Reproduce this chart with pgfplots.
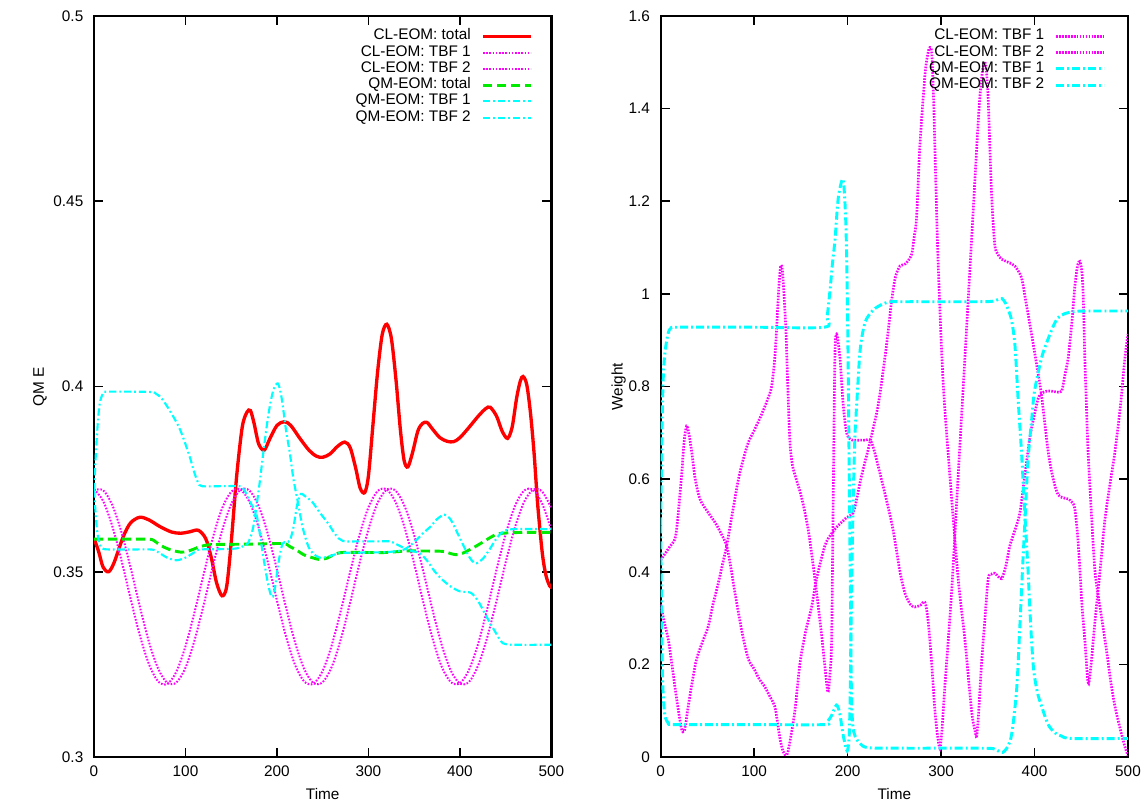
\documentclass[border=0pt]{standalone}
\usepackage{fontspec}
\setmainfont{Liberation Sans}
\usepackage{pgfplots}
\pgfplotsset{compat=1.18}

\definecolor{gpred}{RGB}{255,0,0}
\definecolor{gpmag}{RGB}{255,0,255}
\definecolor{gpgreen}{RGB}{0,235,0}
\definecolor{gpcyan}{RGB}{0,255,255}
\newcommand{\fs}{\fontsize{11.5pt}{12pt}\selectfont}

\pgfplotsset{
  gp/.style={
    scale only axis,
    xmin=0, xmax=500,
    xtick={0,100,200,300,400,500},
    xticklabels={0,100,200,300,400,500},
    tick align=inside, xtick pos=both, ytick pos=both,
    major tick length=7pt,
    tick style={black, line width=1.2pt},
    axis line style={line width=1.6pt},
    tick label style={font=\fs},
    label style={font=\fs},
    xticklabel style={yshift=-3pt},
    yticklabel style={xshift=-4.5pt},
    xlabel={Time},
    xlabel style={at={(axis description cs:0.5,-0.0505)}, anchor=center},
    legend plot pos=right,
    legend cell align=right,
    legend image code/.code={\draw[##1] (0pt,0pt) -- (36pt,0pt);},
    legend style={draw=none, fill=none, font=\fs, inner sep=0pt,
      row sep=0pt, column sep=8pt,
      nodes={inner sep=0pt, text height=8.8pt, text depth=3.4pt}},
    every axis plot/.append style={smooth, tension=0.5, no markers},
  },
  cltot/.style={gpred, line width=2.5pt},
  cldot/.style={gpmag, line width=1.5pt, dash pattern=on 1.2pt off 1.2pt},
  qmtot/.style={gpgreen, line width=2.2pt, dash pattern=on 7pt off 3.5pt},
  qmdd/.style={gpcyan, line width=1.6pt, dash pattern=on 5.5pt off 2.2pt on 1.3pt off 2.2pt},
  cldotR/.style={gpmag, line width=2pt, dash pattern=on 1.2pt off 1pt},
  qmddR/.style={gpcyan, line width=2.2pt, dash pattern=on 6pt off 2.3pt on 1.4pt off 2.3pt},
}

\begin{document}
\begin{tikzpicture}
\useasboundingbox (0,0) rectangle (859.5pt,602.25pt);

% ---------------- left: energies ----------------
\begin{axis}[gp,
  at={(70.5pt,34.5pt)}, anchor=south west,
  width=343.1pt, height=555.75pt,
  ymin=0.3, ymax=0.5,
  ytick={0.3,0.35,0.4,0.45,0.5},
  yticklabels={0.3,0.35,0.4,0.45,0.5},
  ylabel={QM E},
  ylabel style={at={(axis description cs:-0.118,0.5)}, anchor=center},
  legend style={at={(axis description cs:0.9596,0.984)}, anchor=north east},
]
\addplot[cltot] coordinates {
 (0,0.3590) (5,0.3555) (10,0.3512) (16,0.3500) (22,0.3525) (32,0.3595)
 (40,0.3632) (50,0.3647) (60,0.3640) (72,0.3622) (85,0.3607) (95,0.3604)
 (105,0.3608) (114,0.3612) (122,0.3590) (128,0.3540) (134,0.3470) (140,0.3435)
 (145,0.3460) (150,0.3580) (156,0.3760) (162,0.3890) (167,0.3930) (171,0.3935)
 (175,0.3900) (180,0.3845) (186,0.3828) (192,0.3858) (200,0.3895) (208,0.3905)
 (215,0.3895) (225,0.3860) (235,0.3828) (243,0.3812) (250,0.3809) (258,0.3818)
 (266,0.3838) (274,0.3850) (280,0.3835) (286,0.3780) (291,0.3725) (296,0.3714)
 (300,0.3760) (305,0.3900) (310,0.4040) (315,0.4140) (320,0.4168) (325,0.4130)
 (330,0.4020) (335,0.3880) (339,0.3800) (343,0.3783) (348,0.3820) (354,0.3880)
 (359,0.3900) (364,0.3903) (370,0.3885) (378,0.3862) (386,0.3852) (393,0.3851)
 (400,0.3862) (410,0.3890) (420,0.3920) (428,0.3940) (433,0.3944) (440,0.3920)
 (446,0.3880) (452,0.3860) (457,0.3890) (462,0.3970) (466,0.4015) (469,0.4027)
 (473,0.4005) (477,0.3930) (481,0.3820) (485,0.3680) (490,0.3550) (494,0.3490)
 (498,0.3462) (500,0.3458)
};
\addlegendentry{CL-EOM: total}
\addplot[cldot] coordinates {
 (0,0.3723) (10,0.3691) (20,0.3623) (30,0.3531) (40,0.3427) (50,0.3329)
 (60,0.3251) (70,0.3204) (80,0.3197) (90,0.3230) (100,0.3299) (110,0.3392)
 (120,0.3495) (130,0.3593) (140,0.3671) (150,0.3716) (160,0.3722) (170,0.3688)
 (180,0.3619) (190,0.3526) (200,0.3422) (210,0.3324) (220,0.3247) (230,0.3203)
 (240,0.3198) (250,0.3233) (260,0.3303) (270,0.3397) (280,0.3500) (290,0.3598)
 (300,0.3674) (310,0.3718) (320,0.3722) (330,0.3686) (340,0.3615) (350,0.3521)
 (360,0.3417) (370,0.3320) (380,0.3244) (390,0.3202) (400,0.3199) (410,0.3236)
 (420,0.3307) (430,0.3402) (440,0.3506) (450,0.3602) (460,0.3677) (470,0.3719)
 (480,0.3721) (490,0.3683) (500,0.3611)
};
\addlegendentry{CL-EOM: TBF 1}
\addplot[cldot] coordinates {
 (0,0.3720) (10,0.3720) (20,0.3680) (30,0.3607) (40,0.3511) (50,0.3407)
 (60,0.3311) (70,0.3239) (80,0.3200) (90,0.3201) (100,0.3241) (110,0.3316)
 (120,0.3412) (130,0.3516) (140,0.3611) (150,0.3683) (160,0.3721) (170,0.3719)
 (180,0.3677) (190,0.3602) (200,0.3505) (210,0.3402) (220,0.3307) (230,0.3236)
 (240,0.3199) (250,0.3202) (260,0.3244) (270,0.3320) (280,0.3417) (290,0.3521)
 (300,0.3615) (310,0.3686) (320,0.3722) (330,0.3718) (340,0.3674) (350,0.3598)
 (360,0.3500) (370,0.3397) (380,0.3303) (390,0.3233) (400,0.3198) (410,0.3203)
 (420,0.3248) (430,0.3325) (440,0.3422) (450,0.3526) (460,0.3619) (470,0.3688)
 (480,0.3722) (490,0.3716) (500,0.3671)
};
\addlegendentry{CL-EOM: TBF 2}
\addplot[qmtot] coordinates {
 (0,0.3588) (20,0.3588) (40,0.3588) (60,0.3588) (65,0.3585) (70,0.3576)
 (76,0.3567) (85,0.3558) (95,0.3553) (102,0.3555) (110,0.3562) (116,0.3568)
 (127,0.3573) (150,0.3574) (180,0.3575) (207,0.3576) (214,0.3568) (221,0.3559)
 (230,0.3545) (240,0.3537) (247,0.3533) (255,0.3537) (263,0.3547) (272,0.3552)
 (300,0.3552) (320,0.3552) (341,0.3556) (360,0.3556) (381,0.3555) (390,0.3549)
 (396,0.3546) (403,0.3550) (414,0.3564) (425,0.3580) (435,0.3595) (443,0.3603)
 (465,0.3606) (500,0.3606)
};
\addlegendentry{QM-EOM: total}
\addplot[qmdd] coordinates {
 (0,0.372) (3,0.386) (6,0.395) (10,0.3982) (14,0.3986) (40,0.3986) (63,0.3985)
 (68,0.3980) (74,0.3968) (84,0.3930) (94,0.3884) (104,0.3815) (110,0.3765)
 (114,0.3740) (118,0.3731) (140,0.3731) (159,0.3731) (163,0.3725) (167,0.3708)
 (172,0.3682) (178,0.3650) (185,0.3541) (190,0.3470) (194,0.3433) (197,0.3445)
 (202,0.3530) (206,0.3575) (210,0.3580) (214,0.3584) (218,0.3620) (222,0.3680)
 (226,0.3710) (230,0.3705) (238,0.3690) (247,0.3659) (256,0.3630) (264,0.3600)
 (272,0.3583) (290,0.3582) (310,0.3582) (323,0.3582) (330,0.3575) (338,0.3565)
 (346,0.3557) (356,0.3550) (364,0.3530) (372,0.3502) (381,0.3478) (390,0.3460)
 (400,0.3447) (412,0.3443) (420,0.3420) (429,0.3379) (438,0.3340) (447,0.3307)
 (460,0.3303) (500,0.3303)
};
\addlegendentry{QM-EOM: TBF 1}
\addplot[qmdd] coordinates {
 (0,0.372) (3,0.362) (6,0.3575) (10,0.3562) (20,0.3560) (40,0.3560) (63,0.3560)
 (70,0.3553) (80,0.3538) (90,0.3531) (100,0.3538) (110,0.3553) (116,0.3560)
 (140,0.3561) (156,0.3563) (162,0.3568) (168,0.3576) (174,0.3620) (180,0.3720)
 (186,0.3840) (191,0.3930) (196,0.3990) (201,0.4008) (205,0.3970) (210,0.3880)
 (214,0.3821) (218,0.3750) (223,0.3686) (228,0.3620) (234,0.3570) (240,0.3548)
 (247,0.3538) (255,0.3540) (265,0.3548) (272,0.3551) (300,0.3552) (320,0.3553)
 (338,0.3559) (350,0.3580) (360,0.3605) (367,0.3620) (375,0.3642) (383,0.3654)
 (390,0.3640) (400,0.3590) (408,0.3550) (413,0.3530) (418,0.3523) (425,0.3535)
 (432,0.3559) (440,0.3590) (447,0.3608) (458,0.3615) (500,0.3615)
};
\addlegendentry{QM-EOM: TBF 2}
\end{axis}

% ---------------- right: weights ----------------
\begin{axis}[gp,
  at={(495.5pt,34.5pt)}, anchor=south west,
  width=350.5pt, height=555.75pt,
  ymin=0, ymax=1.6,
  ytick={0,0.2,0.4,0.6,0.8,1,1.2,1.4,1.6},
  yticklabels={0,0.2,0.4,0.6,0.8,1,1.2,1.4,1.6},
  ylabel={Weight},
  ylabel style={at={(axis description cs:-0.09,0.5)}, anchor=center},
  legend style={at={(axis description cs:0.953,0.984)}, anchor=north east},
]
\addplot[cldotR] coordinates {
 (0,0.425) (5,0.44) (10,0.455) (15.3,0.471) (18,0.51) (22.4,0.608) (25,0.68)
 (27.8,0.715) (30,0.70) (33.2,0.659) (37,0.60) (42,0.557) (50,0.53) (58,0.507)
 (64,0.485) (70.6,0.456) (75,0.41) (79.5,0.354) (87,0.27) (93.7,0.212) (100,0.19)
 (105,0.17) (111.5,0.151) (117,0.13) (122,0.11) (125,0.075) (127.6,0.04)
 (131,0.012) (134.8,0.004) (138,0.03) (143.6,0.1) (149,0.202) (155,0.27)
 (161.5,0.324) (166.8,0.385) (175.7,0.456) (182,0.48) (188.2,0.496) (198.9,0.517)
 (206,0.527) (210,0.56) (215,0.608) (223.8,0.679) (232.7,0.76) (239.9,0.862)
 (244,0.93) (247,0.984) (251,1.035) (256,1.06) (262,1.065) (268.4,1.085)
 (271,1.12) (273.8,1.166) (277.3,1.319) (282.7,1.471) (286,1.52) (288,1.532)
 (290,1.52) (292,1.42) (294,1.27) (296.9,1.065) (302.2,0.81) (309.4,0.608)
 (318.3,0.385) (325.5,0.253) (332.6,0.10) (336,0.06) (338,0.045) (340,0.09)
 (343.3,0.202) (347,0.3) (350.4,0.385) (354,0.395) (357.5,0.397) (361,0.39)
 (364.7,0.385) (369,0.41) (373.6,0.456) (379,0.49) (384.3,0.527) (389.6,0.608)
 (395,0.69) (400,0.74) (404,0.775) (407.5,0.785) (413,0.79) (418,0.79)
 (424,0.788) (429,0.79) (432,0.82) (436,0.862) (440,0.94) (443,1.014) (446,1.06)
 (448.5,1.07) (450.5,1.05) (452,1.0) (453.8,0.862) (455.5,0.76) (457.3,0.659)
 (461,0.52) (464.5,0.405) (468,0.35) (471.6,0.303) (477,0.23) (482.4,0.151)
 (487,0.10) (493,0.05) (497,0.02) (500,0.003)
};
\addlegendentry{CL-EOM: TBF 1}
\addplot[cldotR] coordinates {
 (0,0.33) (4,0.29) (8.2,0.253) (12,0.2) (15.3,0.151) (19,0.1) (22.4,0.06)
 (25,0.055) (27,0.075) (29.5,0.11) (34,0.165) (38.5,0.212) (45,0.25) (51,0.283)
 (56,0.33) (61.6,0.375) (66,0.415) (70.6,0.456) (77,0.53) (83,0.598) (88,0.64)
 (93.7,0.679) (100,0.705) (108,0.74) (114,0.77) (118.7,0.80) (122,0.86)
 (124,0.923) (126,1.0) (128,1.055) (129.5,1.06) (131,1.03) (134,0.92) (136,0.8)
 (138.3,0.68) (141,0.63) (145,0.6) (150.8,0.56) (157.9,0.49) (165,0.385)
 (172.2,0.263) (177.5,0.16) (179.3,0.141) (181.5,0.19) (182.9,0.253)
 (184.6,0.557) (186.4,0.862) (188.2,0.913) (191.8,0.862) (195.3,0.76)
 (198.9,0.70) (203,0.686) (207.8,0.684) (218.5,0.684) (225.7,0.679)
 (236.4,0.598) (247,0.507) (252,0.45) (256,0.40) (261.3,0.354) (267,0.33)
 (272,0.324) (278,0.328) (282.7,0.334) (286.2,0.293) (290,0.2) (293.4,0.1)
 (296,0.05) (298.7,0.019) (301,0.06) (304,0.151) (311.2,0.354) (318.3,0.608)
 (325.5,0.862) (332.6,1.116) (339.7,1.37) (343,1.46) (346,1.50) (348,1.49)
 (350.4,1.42) (354,1.217) (357.5,1.106) (361,1.085) (364.7,1.075) (375.4,1.065)
 (379,1.06) (386,1.035) (391,0.98) (396.8,0.913) (402,0.85) (407.5,0.78)
 (414.6,0.659) (420,0.60) (425,0.567) (430,0.56) (436,0.557) (440,0.55)
 (443,0.537) (446,0.48) (448.5,0.405) (451,0.32) (453.8,0.253) (457.3,0.161)
 (460,0.19) (465,0.3) (470,0.40) (475,0.507) (480,0.58) (486,0.659) (492,0.76)
 (496.7,0.862) (500,0.913)
};
\addlegendentry{CL-EOM: TBF 2}
\addplot[qmddR] coordinates {
 (0,0.50) (1.5,0.72) (3,0.83) (5,0.88) (8,0.915) (11,0.926) (20,0.928)
 (100,0.928) (175,0.928) (178,0.95) (181,1.004) (184,1.07) (186.5,1.116)
 (190,1.207) (194.6,1.248) (196.5,1.22) (198.2,1.146) (199.5,1.02) (200.5,0.86)
 (201.5,0.66) (202.8,0.40) (204,0.15) (205.5,0.07) (208,0.045) (213,0.03)
 (222,0.02) (260,0.019) (300,0.019) (340,0.019) (356,0.018) (362,0.012)
 (366,0.01) (370,0.018) (374,0.035) (377,0.07) (381,0.15) (384,0.27) (387,0.40)
 (390,0.52) (393,0.64) (397,0.73) (400,0.79) (407.5,0.862) (414.6,0.903)
 (420,0.93) (425,0.948) (432,0.957) (443,0.962) (460,0.963) (500,0.963)
};
\addlegendentry{QM-EOM: TBF 1}
\addplot[qmddR] coordinates {
 (0,0.50) (1,0.30) (2,0.17) (3.5,0.11) (5,0.085) (8,0.074) (12,0.07) (100,0.07)
 (175,0.07) (179,0.078) (183,0.09) (188,0.112) (191.5,0.095) (195,0.05)
 (198,0.022) (200,0.015) (202,0.06) (203.5,0.25) (205,0.45) (206.5,0.6)
 (208,0.70) (210,0.77) (213,0.87) (216,0.915) (220,0.945) (229,0.968)
 (243,0.982) (260,0.983) (300,0.983) (340,0.983) (355,0.984) (361,0.988)
 (365,0.99) (369,0.98) (372,0.965) (375.4,0.943) (379,0.89) (382.5,0.77)
 (386,0.66) (389.5,0.53) (393,0.405) (396,0.28) (399,0.19) (403,0.14)
 (407.5,0.11) (414.6,0.07) (422,0.052) (429,0.045) (440,0.04) (500,0.04)
};
\addlegendentry{QM-EOM: TBF 2}
\end{axis}
\end{tikzpicture}
\end{document}
